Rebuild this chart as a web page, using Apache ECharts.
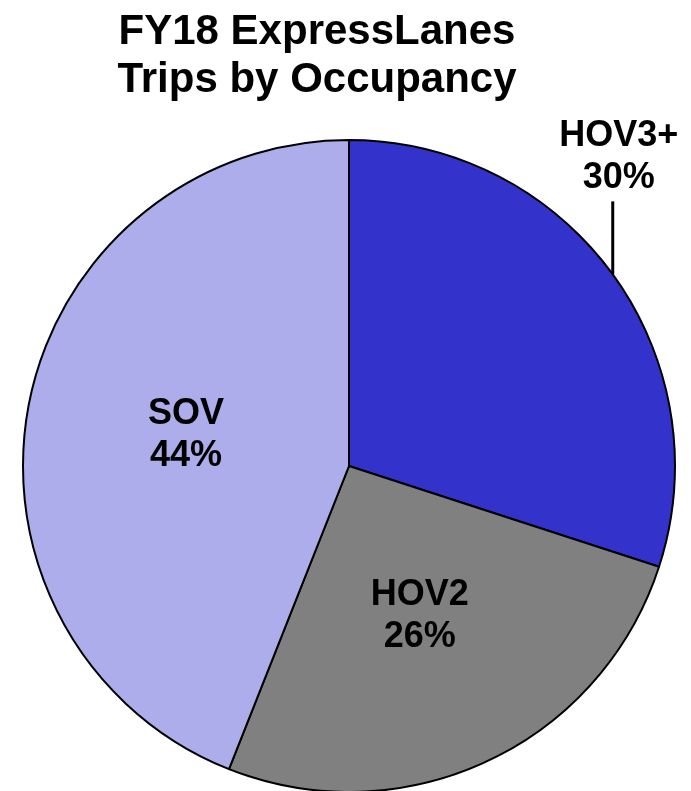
<!DOCTYPE html>
<html>
<head>
<meta charset="utf-8">
<style>
  html, body { margin: 0; padding: 0; background: #fff; }
  #main { width: 691px; height: 791px; }
</style>
<script src="https://cdn.jsdelivr.net/npm/echarts@6/dist/echarts.min.js"></script>
</head>
<body>
<div id="main"></div>
<script>
// chart data
const categories = ["HOV3+", "HOV2", "SOV"];
const shares = [30, 26, 44];
const sliceColors = ["#3333cc", "#808080", "#adadeb"];

const chart = echarts.init(document.getElementById("main"));

const pieData = categories.map((name, i) => ({
  name: name,
  value: shares[i],
  itemStyle: { color: sliceColors[i] },
  label: { position: i === 0 ? "outside" : "inside" },
  labelLine: { show: i === 0 }
}));

chart.setOption({
  animation: false,
  title: {
    text: "FY18 ExpressLanes\nTrips by Occupancy",
    left: 312,
    top: 3,
    textAlign: "center",
    textStyle: {
      fontFamily: "Liberation Sans",
      fontWeight: "bold",
      fontSize: 42,
      lineHeight: 48,
      color: "#000"
    }
  },
  series: [
    {
      type: "pie",
      center: [349, 466],
      radius: 326,
      startAngle: 90,
      clockwise: true,
      silent: true,
      data: pieData,
      itemStyle: { borderColor: "#000", borderWidth: 2 },
      label: {
        formatter: "{b}\n{d}%",
        fontFamily: "Liberation Sans",
        fontWeight: "bold",
        fontSize: 36,
        lineHeight: 42,
        color: "#000",
        align: "center",
        overflow: "none"
      },
      labelLine: {
        lineStyle: { color: "#000", width: 3 }
      },
      labelLayout: function (params) {
        if (params.dataIndex !== 0) return {};
        // vertical leader from the slice edge up to the label
        const p = params.labelLinePoints[0];
        const top = p[1] - 73;
        return {
          x: p[0] + 6,
          y: top - params.labelRect.height / 2 - 2,
          align: "center",
          verticalAlign: "middle",
          labelLinePoints: [[p[0], p[1]], [p[0], top], [p[0], top]]
        };
      }
    }
  ]
});
</script>
</body>
</html>
